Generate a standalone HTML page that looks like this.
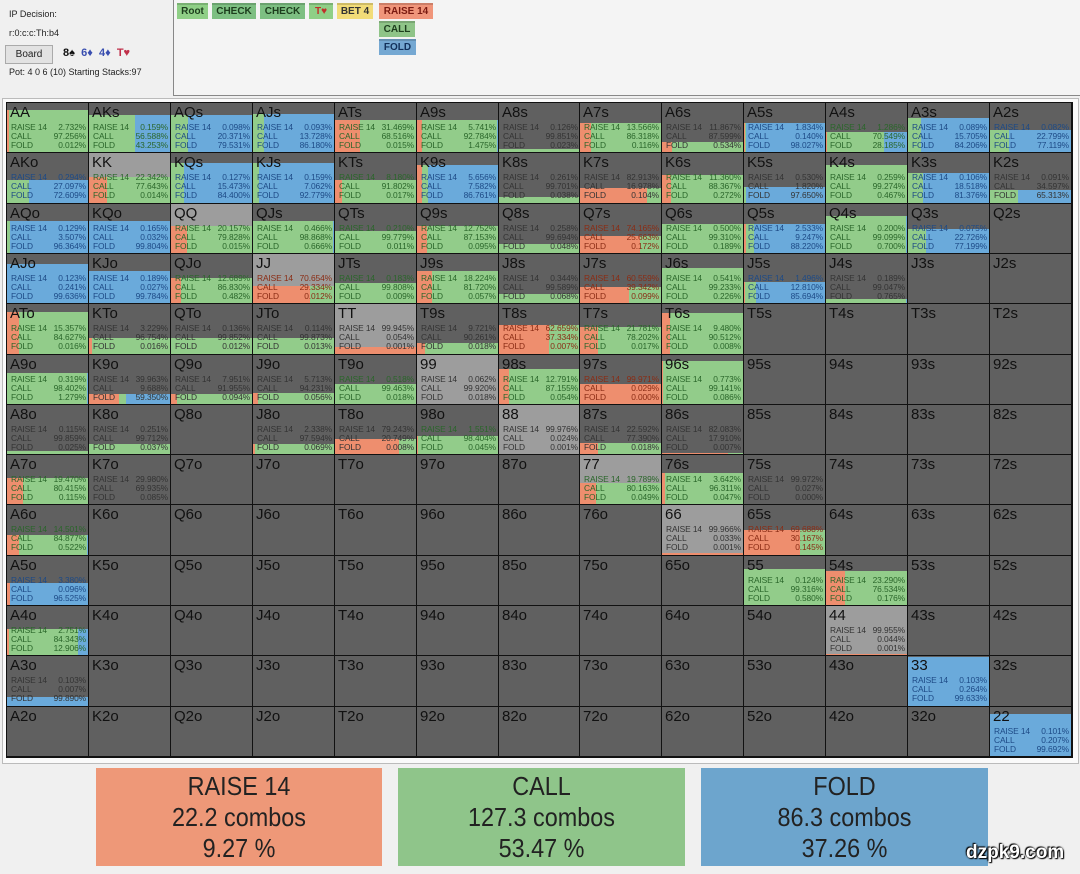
<!DOCTYPE html>
<html><head><meta charset="utf-8">
<style>
body{margin:0;width:1080px;height:874px;background:#f0f0f0;font-family:"Liberation Sans",Arial,sans-serif;position:relative;overflow:hidden}
.a{position:absolute}
.tab{position:absolute;height:14px;font-size:10px;font-weight:bold;line-height:14px;text-align:center;color:#1d3d1d;border-top:2px solid rgba(0,0,0,.15)}
.cell{position:absolute;background:#606060;border-right:1px solid #111;border-bottom:1px solid #111;overflow:hidden;box-sizing:border-box}
.lab{position:absolute;left:3px;top:1px;font-size:15px;color:#111}
.st{position:absolute;left:4px;width:75px;font-size:8.4px;line-height:9px;height:9px;letter-spacing:-0.1px;white-space:nowrap}
.st span{position:absolute;right:0;top:0}
.fill{position:absolute;left:0;bottom:0;width:100%;display:flex}
.box{position:absolute;top:768px;height:98px;text-align:center;font-size:26px;line-height:31px;color:#222;box-sizing:border-box;padding-top:3px}
.box div{transform:scaleX(0.9)}
</style></head><body>
<div class="a" style="left:9px;top:9px;font-size:9px;color:#222">IP Decision:</div>
<div class="a" style="left:9px;top:28px;font-size:9px;color:#222">r:0:c:c:Th:b4</div>
<div class="a" style="left:5px;top:45px;width:46px;height:17px;background:#e2e2e2;border:1px solid #aaa;font-size:10px;line-height:17px;text-align:center;color:#222">Board</div>
<div class="a" style="left:63px;top:47px;font-size:11px;font-weight:bold"><span style="color:#111">8♠</span>&nbsp;&nbsp;<span style="color:#3a4fb0">6♦</span>&nbsp;&nbsp;<span style="color:#3a4fb0">4♦</span>&nbsp;&nbsp;<span style="color:#c0304a">T♥</span></div>
<div class="a" style="left:9px;top:67px;font-size:9px;color:#222">Pot: 4 0 6 (10) Starting Stacks:97</div>
<div class="a" style="left:173px;top:0;width:907px;height:95px;border-left:1px solid #888;border-bottom:1px solid #888;background:#f4f4f4"></div>
<div class="tab" style="left:177px;top:3px;width:31px;background:#8fcf86">Root</div>
<div class="tab" style="left:212px;top:3px;width:44px;background:#7dbf82">CHECK</div>
<div class="tab" style="left:260px;top:3px;width:45px;background:#7dbf82">CHECK</div>
<div class="tab" style="left:309px;top:3px;width:24px;background:#8fcf86;color:#c0302a">T♥</div>
<div class="tab" style="left:337px;top:3px;width:36px;background:#f2dc78;color:#333">BET 4</div>
<div class="tab" style="left:379px;top:3px;width:54px;background:#f0957a;color:#7a1a10">RAISE 14</div>
<div class="tab" style="left:379px;top:21px;width:36px;background:#8fc488">CALL</div>
<div class="tab" style="left:379px;top:39px;width:37px;background:#75a8d2;color:#12305a">FOLD</div>
<div class="a" style="left:2px;top:98px;width:1075px;height:664px;background:#fafafa;border:1px solid #bbb"></div>
<div class="a" style="left:6px;top:102px;width:1067px;height:656px;background:#111"></div>
<div id="g"></div>
<div class="box" style="left:96px;width:286px;background:#ee9878"><div>RAISE 14<br>22.2 combos<br>9.27 %</div></div>
<div class="box" style="left:398px;width:287px;background:#8fc58a"><div>CALL<br>127.3 combos<br>53.47 %</div></div>
<div class="box" style="left:701px;width:287px;background:#6da5cd"><div>FOLD<br>86.3 combos<br>37.26 %</div></div>
<div class="a" style="left:966px;top:842px;font-size:19px;font-weight:bold;color:#fff;text-shadow:0 0 2px #000,1px 1px 1px #000,-1px -1px 1px #000">dzpk9.com</div>
<script>
var R="AKQJT98765432";
var D={
AA:[2.732,97.256,0.012,7],AKs:[.159,56.588,43.253,12],AQs:[.098,20.371,79.531,12],AJs:[.093,13.728,86.18,11],ATs:[31.469,68.516,.015,17],A9s:[5.741,92.784,1.475,17],A8s:[.126,99.851,.023,46],A7s:[13.566,86.318,.116,20],A6s:[11.867,87.599,.534,39],A5s:[1.834,.14,98.027,20],A4s:[1.286,70.549,28.185,29],A3s:[.089,15.705,84.206,15],A2s:[.082,22.799,77.119,27],
AKo:[.294,27.097,72.609,27],KK:[22.342,77.643,.014,24,1],KQs:[.127,15.473,84.4,10],KJs:[.159,7.062,92.779,10],KTs:[8.18,91.802,.017,27],K9s:[5.656,7.582,86.761,12],K8s:[.261,99.701,.038,44],K7s:[82.913,16.978,.104,35],K6s:[11.36,88.367,.272,22],K5s:[.53,1.82,97.65,34],K4s:[.259,99.274,.467,12],K3s:[.106,18.518,81.376,20],K2s:[.091,34.597,65.313,37],
AQo:[.129,3.507,96.364,17],KQo:[.165,.032,99.804,17],QQ:[20.157,79.828,.015,22,1],QJs:[.466,98.868,.666,17],QTs:[.21,99.779,.011,27],Q9s:[12.752,87.153,.095,22],Q8s:[.258,99.694,.048,40],Q7s:[74.165,25.663,.172,32],Q6s:[.5,99.31,.189,20],Q5s:[2.533,9.247,88.22,20],Q4s:[.2,99.099,.7,12],Q3s:[.075,22.726,77.199,25],
AJo:[.123,.241,99.636,10],KJo:[.189,.027,99.784,17],QJo:[12.689,86.83,.482,24],JJ:[70.654,29.334,.012,32,1],JTs:[.183,99.808,.009,29],J9s:[18.224,81.72,.057,17],J8s:[.344,99.589,.068,40],J7s:[60.559,39.342,.099,33],J6s:[.541,99.233,.226,14],J5s:[1.496,12.81,85.694,28],J4s:[.189,99.047,.765,45],
ATo:[15.357,84.627,.016,8],KTo:[3.229,96.754,.016,34],QTo:[.136,99.852,.012,34],JTo:[.114,99.873,.013,34],TT:[99.945,.054,.001,43,1],T9s:[9.721,90.261,.018,39],T8s:[62.659,37.334,.007,21],T7s:[21.781,78.202,.017,23],T6s:[9.48,90.512,.008,9],
A9o:[.319,98.402,1.279,18],K9o:[39.963,9.688,59.35,39],Q9o:[7.951,91.955,.094,39],J9o:[5.713,94.231,.056,38],T9o:[.518,99.463,.018,29],"99":[.062,99.92,.018,null,1],"98s":[12.791,87.155,.054,14],"97s":[99.971,.029,0,29],"96s":[.773,99.141,.086,6],
A8o:[.115,99.859,.025,46],K8o:[.251,99.712,.037,39],J8o:[2.338,97.594,.069,39],T8o:[79.243,20.749,.008,34],"98o":[1.551,98.404,.045,31],"88":[99.976,.024,.001,null,1],"87s":[22.592,77.39,.018,38],"86s":[82.083,17.91,.007,48],
A7o:[19.47,80.415,.115,23],K7o:[29.98,69.935,.085,null],"77":[19.789,80.163,.049,28,1],"76s":[3.642,96.311,.047,18],"75s":[99.972,.027,0,null],
A6o:[14.501,84.877,.522,30],"66":[99.966,.033,.001,48,1],"65s":[69.688,30.167,.145,25],
A5o:[3.38,.096,96.525,27],"55":[.124,99.316,.58,13],"54s":[23.29,76.534,.176,15],
A4o:[2.751,84.343,12.906,23],"44":[99.955,.044,.001,48,1],
A3o:[.103,.007,99.89,41],"33":[.103,.264,99.633,1],
"22":[.101,.207,99.692,7]};
var C=["#ee8e6e","#92cc8a","#6aaadb"],T=["#8a2c14","#2a662a","#1d4a86"];
function f(v){return v.toFixed(3)+"%"}
var h="";
for(var r=0;r<13;r++)for(var c=0;c<13;c++){
 var n=r==c?R[r]+R[c]:(c>r?R[r]+R[c]+"s":R[c]+R[r]+"o");
 var x=7+Math.round(c*81.92),y=103+Math.round(r*50.3);
 var w=7+Math.round((c+1)*81.92)-x,hh=103+Math.round((r+1)*50.3)-y;
 var d=D[n];
 var bg=d&&d[4]?"#9d9d9d":"#606060";
 h+='<div class="cell" style="left:'+x+'px;top:'+y+'px;width:'+w+'px;height:'+hh+'px;background:'+bg+'">';
 var tc="#333";
 if(d){
  if(d[3]!==null){
   var fh=hh-1-d[3];
   h+='<div class="fill" style="height:'+fh+'px">';
   for(var k=0;k<3;k++)h+='<div style="width:'+d[k]+'%;background:'+C[k]+'"></div>';
   h+='</div>';
   var m=d[0]>d[1]?(d[0]>d[2]?0:2):(d[1]>d[2]?1:2);
   if(d[3]<=33)tc=T[m];
  }
  var L=["RAISE 14","CALL","FOLD"];
  for(var k=0;k<3;k++)h+='<div class="st" style="top:'+(20+k*9)+'px;color:'+tc+'">'+L[k]+'<span>'+f(d[k])+'</span></div>';
 }
 h+='<div class="lab">'+n+'</div></div>';
}
document.getElementById("g").innerHTML=h;
</script>
</body></html>
